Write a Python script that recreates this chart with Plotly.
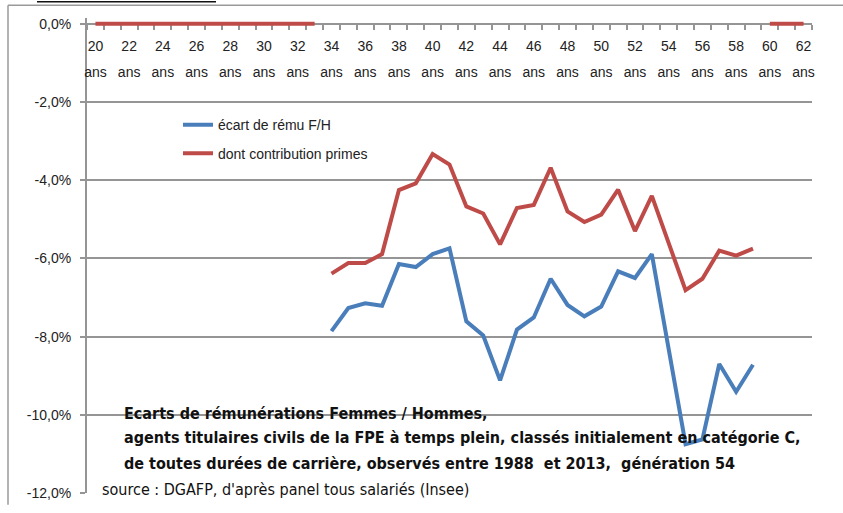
import plotly.graph_objects as go

ages = list(range(20, 63))
tick_ages = list(range(20, 63, 2))
tick_num = [str(a) for a in tick_ages]
tick_unit = ["ans" for a in tick_ages]

data_ages = list(range(34, 60))
ecart = [-7.86, -7.27, -7.15, -7.21, -6.14, -6.22, -5.89, -5.74, -7.61, -7.97,
         -9.12, -7.82, -7.51, -6.52, -7.19, -7.48, -7.23, -6.33, -6.50, -5.89,
         -8.32, -10.75, -10.63, -8.70, -9.41, -8.72]
primes = [-6.39, -6.12, -6.12, -5.89, -4.25, -4.08, -3.33, -3.60, -4.67, -4.85,
          -5.64, -4.71, -4.63, -3.68, -4.80, -5.07, -4.88, -4.24, -5.30, -4.40,
          -5.61, -6.81, -6.52, -5.80, -5.93, -5.75]
zero_ages_a = list(range(20, 34))
zero_ages_b = list(range(60, 63))

y_ticks = [0, -2, -4, -6, -8, -10, -12]
y_text = ["0,0%", "-2,0%", "-4,0%", "-6,0%", "-8,0%", "-10,0%", "-12,0%"]

BLUE = "#4A7EBB"
RED = "#BE4B48"
GRID = "#959595"
FONT = "Liberation Sans, Arial, sans-serif"
NARROW = "Liberation Sans Narrow, DejaVu Sans Condensed, Arial Narrow, sans-serif"

zero_x = zero_ages_a + [None] + zero_ages_b
zero_y = [0] * len(zero_ages_a) + [None] + [0] * len(zero_ages_b)

fig = go.Figure()
fig.add_trace(go.Scatter(x=zero_x, y=zero_y, mode="lines", line=dict(color=RED, width=4),
                         showlegend=False, connectgaps=False, hoverinfo="skip", xaxis="x2"))
fig.add_trace(go.Scatter(x=data_ages, y=ecart, mode="lines", name="écart de rému F/H",
                         line=dict(color=BLUE, width=4), legend="legend"))
fig.add_trace(go.Scatter(x=data_ages, y=primes, mode="lines", name="dont contribution primes",
                         line=dict(color=RED, width=4), legend="legend2"))

H = 483.0
def py(p):
    return (501 - p) / H
def px(p):
    return (p - 87) / 725.0

XPOS = 12 / 12.15

fig.update_layout(
    width=843, height=513,
    margin=dict(l=87, r=31, t=18, b=12),
    paper_bgcolor="white", plot_bgcolor="white",
    font=dict(family=FONT, size=14, color="#222222"),
    legend=dict(x=px(178), y=py(127), xanchor="left", yanchor="middle",
                bgcolor="rgba(0,0,0,0)", font=dict(size=14, color="#222222")),
    legend2=dict(x=px(178), y=py(156), xanchor="left", yanchor="middle",
                 bgcolor="rgba(0,0,0,0)", font=dict(size=14, color="#222222")),
    xaxis=dict(
        range=[19.5, 62.5], anchor="free", position=XPOS, side="bottom",
        tickmode="array", tickvals=tick_ages, ticktext=tick_num,
        ticks="", showgrid=False, zeroline=False, ticklabelstandoff=9,
        showline=True, linecolor=GRID, linewidth=2, layer="below traces",
        tickfont=dict(size=14, color="#222222"),
        minor=dict(tickmode="linear", tick0=19.5, dtick=1, ticks="outside",
                   ticklen=5, tickcolor=GRID, tickwidth=1.5, showgrid=False),
    ),
    xaxis2=dict(
        range=[19.5, 62.5], overlaying="x", anchor="free", position=XPOS, side="bottom",
        tickmode="array", tickvals=tick_ages, ticktext=tick_unit,
        ticks="", showgrid=False, zeroline=False, showline=False, ticklabelstandoff=38,
        tickfont=dict(size=14, color="#222222"),
    ),
    yaxis=dict(
        range=[-12, 0.15], tickmode="array", tickvals=y_ticks, ticktext=y_text,
        showgrid=True, gridcolor=GRID, gridwidth=2, zeroline=False,
        showline=True, linecolor=GRID, linewidth=2,
        ticks="outside", ticklen=5, tickcolor=GRID, tickwidth=1.5,
        ticklabelstandoff=6, layer="below traces",
        tickfont=dict(size=14, color="#222222"),
    ),
)

lines = [
    ("<b>Ecarts de rémunérations Femmes / Hommes,</b>", 122, 420),
    ("<b>agents titulaires civils de la FPE à temps plein, classés initialement en catégorie C,</b>", 122, 445),
    ("<b>de toutes durées de carrière, observés entre 1988  et 2013,  génération 54</b>", 122, 471),
    ("source : DGAFP, d'après panel tous salariés (Insee)", 100, 497),
]
for txt, x, y in lines:
    fig.add_annotation(text=txt, xref="paper", yref="paper", x=px(x), y=py(y),
                       xanchor="left", yanchor="middle", showarrow=False,
                       font=dict(family=NARROW, size=16, color="#111111"))

# outer chart frame (top and left edges visible in the crop)
fig.add_shape(type="line", xref="paper", yref="paper", x0=px(8), x1=px(843), y0=py(5), y1=py(5),
              line=dict(color="#9a9a9a", width=1.5))
fig.add_shape(type="line", xref="paper", yref="paper", x0=px(8), x1=px(8), y0=py(5), y1=py(513),
              line=dict(color="#9a9a9a", width=1.5))
# cropped underline of the title above the chart
fig.add_shape(type="line", xref="paper", yref="paper", x0=px(37), x1=px(216), y0=py(1.5), y1=py(1.5),
              line=dict(color="#111111", width=1.5))

fig.write_html("out.html", config={"displayModeBar": False},
               post_script="document.body.style.margin='0px';")
